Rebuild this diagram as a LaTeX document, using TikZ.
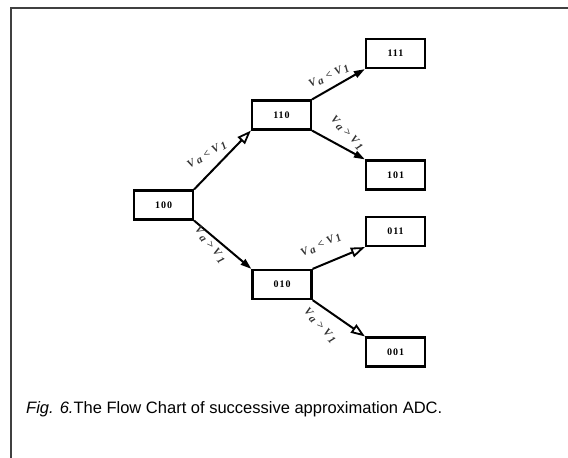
\documentclass[tikz,border=0pt]{standalone}
\usepackage{fontspec}
\setmainfont{Liberation Serif}
\newfontfamily\capfont{Liberation Sans}
\newfontfamily\boxfont[LetterSpace=10]{Liberation Serif}
\usetikzlibrary{arrows.meta}
\newcommand{\vlt}{V\,\raisebox{-0.35ex}{a}\,\,<\,\,V\,\raisebox{-0.35ex}{1}}
\newcommand{\vgt}{V\,\raisebox{-0.35ex}{a}\,\,>\,\,V\,\raisebox{-0.35ex}{1}}
\begin{document}
\begin{tikzpicture}[x=1pt,y=-1pt,
  state/.style={draw=black, line width=2.2pt, minimum width=59pt, minimum height=29pt, inner sep=0pt,
    font=\boxfont\bfseries\fontsize{10}{10}\selectfont},
  conn/.style={line width=2pt},
  openarr/.style={conn, -{Triangle[open, length=14pt, width=10pt, line width=1.8pt]}},
  fillarr/.style={conn, -{Triangle[length=11pt, width=7pt]}},
  lbl/.style={text=black!80, font=\bfseries\itshape\fontsize{11}{11}\selectfont, inner sep=0pt},
  frame/.style={draw=black!75, line width=1.3pt}]
\useasboundingbox (0,0) rectangle (568,458);
\fill[white] (0,0) rectangle (568,458);
\draw[frame] (11,458) -- (11,8) -- (568,8);

\node[state] (n100) at (163.5,205) {100};
\node[state] (n110) at (281.5,115) {110};
\node[state] (n111) at (395.5,53.5) {111};
\node[state] (n101) at (395.5,175) {101};
\node[state] (n010) at (282,284.5) {010};
\node[state] (n011) at (395.5,231.5) {011};
\node[state] (n001) at (395.5,352) {001};

\draw[openarr] (n100.north east) -- (n110.south west);
\draw[fillarr] (n100.south east) -- (n010.north west);
\draw[fillarr] (n110.north east) -- (n111.south west);
\draw[fillarr] (n110.south east) -- (n101.north west);
\draw[openarr] (n010.north east) -- (n011.south west);
\draw[openarr] (n010.south east) -- (n001.north west);

\node[lbl, rotate=30] (l1) at (207,155) {\vlt};
\node[lbl, rotate=-52] (l2) at (210,245) {\vgt};
\node[lbl, rotate=25] (l3) at (329,76) {\vlt};
\node[lbl, rotate=-47] (l4) at (347,133) {\vgt};
\node[lbl, rotate=25] (l5) at (321,245) {\vlt};
\node[lbl, rotate=-48] (l6) at (320,326) {\vgt};

\node[anchor=base west, inner sep=0pt, font=\capfont\fontsize{16.5}{18}\selectfont] (cap) at (26,413)
  {\itshape Fig. 6.\upshape The Flow Chart of successive approximation ADC.};
\end{tikzpicture}
\end{document}
